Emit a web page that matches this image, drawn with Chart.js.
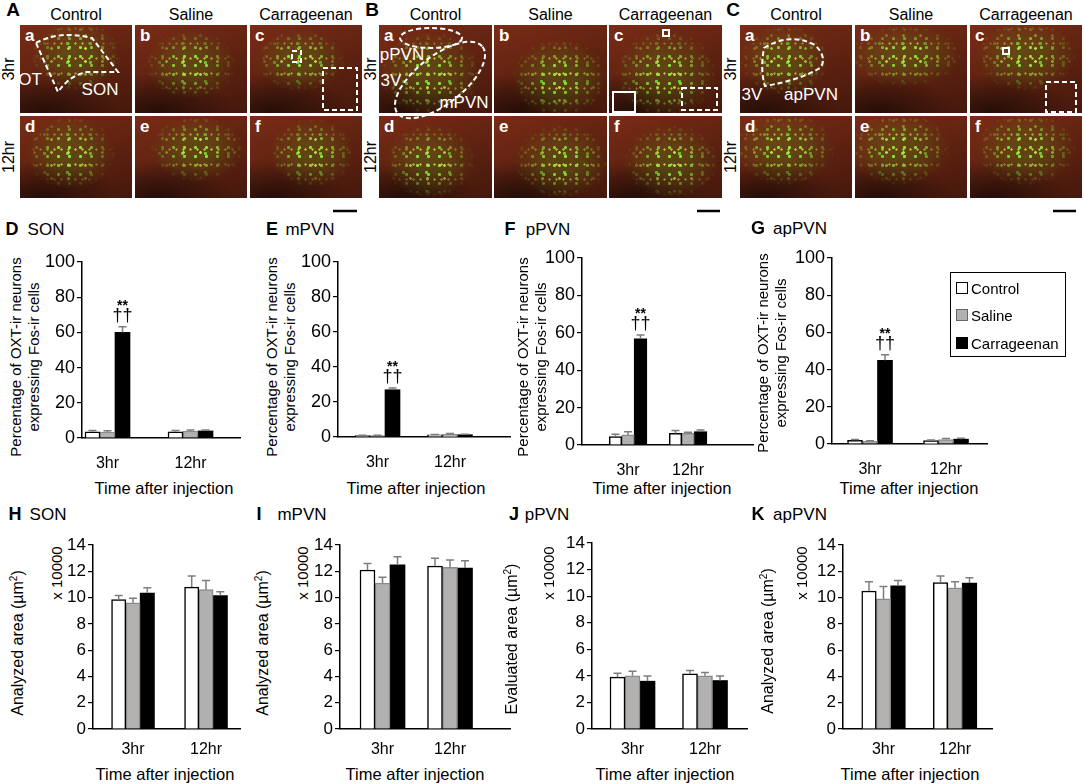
<!DOCTYPE html>
<html>
<head>
<meta charset="utf-8">
<script src="https://cdn.jsdelivr.net/npm/chart.js@4.4.1/dist/chart.umd.min.js"></script>
<style>
  body { margin: 0; background: #fff; font-family: "Liberation Sans", Arial, sans-serif; color: #000; }
  #fig { position: relative; width: 1084px; height: 784px; overflow: hidden; }
  .t { position: absolute; white-space: nowrap; transform: translate(-50%, -50%); line-height: 1.1; }
  .rot { transform: translate(-50%, -50%) rotate(-90deg); text-align: center; }
  .img { position: absolute; overflow: hidden;
         background: radial-gradient(ellipse 70% 45% at 20% 100%, rgba(25,10,5,.8), rgba(25,10,5,0)),
                     linear-gradient(160deg, #7a2c16, #5a2010 60%, #45180c); }
  .cells { position: absolute; inset: 0;
           background-image: radial-gradient(circle, #8fe03a 0 1.2px, rgba(0,0,0,0) 2px),
                             radial-gradient(circle, #b6e244 0 1px, rgba(0,0,0,0) 1.7px),
                             radial-gradient(circle, #6fd02a 0 1.3px, rgba(0,0,0,0) 2px),
                             radial-gradient(circle, #d0c040 0 0.8px, rgba(0,0,0,0) 1.5px),
                             linear-gradient(rgba(95,130,25,.35), rgba(95,130,25,.35));
           background-size: 11px 9px, 17px 13px, 23px 19px, 7px 15px, 100% 100%;
           background-position: 0 0, 6px 4px, 13px 9px, 3px 11px, 0 0; }
  .lbl { position: absolute; color: #fff; font-size: 17px; }
  canvas { position: absolute; }
  .legend { position: absolute; left: 950px; top: 272px; width: 114px; height: 83px; border: 1.5px solid #000; }
  .li { position: absolute; left: 5px; font-size: 15px; line-height: 15px; }
  .li span { display: inline-block; width: 10px; height: 10px; margin-right: 3px; vertical-align: 0; border: 1px solid #000; }
</style>
</head>
<body>
<div id="fig"></div>
<script>
const categories = ["3hr", "12hr"];
const groups = ["Control", "Saline", "Carrageenan"];
const fosTicks = [0, 20, 40, 60, 80, 100];
const areaTicks = [0, 2, 4, 6, 8, 10, 12, 14];
const sigLabels = ["**", "\u2020\u2020"];

// % of OXT-ir neurons expressing Fos-ir cells; rows = Control, Saline, Carrageenan; cols = 3hr, 12hr
const sonFos = [[3.5, 3.5], [3.4, 4.0], [60, 4.0]];
const sonFosErr = [[0.8, 0.8], [0.7, 0.6], [3.2, 0.5]];
const mpvnFos = [[0.8, 1.2], [0.8, 1.6], [27, 1.3]];
const mpvnFosErr = [[0.2, 0.3], [0.2, 0.4], [1.0, 0.3]];
const ppvnFos = [[4.5, 6.2], [5.4, 6.2], [56.8, 7.1]];
const ppvnFosErr = [[1.2, 1.5], [1.7, 0.6], [2.0, 0.9]];
const appvnFos = [[2.0, 1.8], [1.5, 2.4], [45, 2.6]];
const appvnFosErr = [[0.4, 0.3], [0.3, 0.5], [3.0, 0.5]];

// analyzed / evaluated area, x 10000 um2
const sonArea = [[9.85, 10.8], [9.6, 10.6], [10.35, 10.15]];
const sonAreaErr = [[0.3, 0.85], [0.35, 0.7], [0.4, 0.3]];
const mpvnArea = [[12.1, 12.4], [11.1, 12.3], [12.5, 12.25]];
const mpvnAreaErr = [[0.5, 0.6], [0.45, 0.55], [0.6, 0.55]];
const ppvnArea = [[3.9, 4.15], [4.0, 4.0], [3.6, 3.65]];
const ppvnAreaErr = [[0.3, 0.25], [0.35, 0.25], [0.38, 0.33]];
const appvnArea = [[10.5, 11.15], [9.9, 10.75], [10.9, 11.1]];
const appvnAreaErr = [[0.7, 0.5], [0.95, 0.45], [0.4, 0.4]];

const fills = ["#ffffff", "#b3b0b0", "#000000"];
const edges = ["#000000", "#8c8a8a", "#000000"];

const fig = document.getElementById("fig");
function text(x, y, s, css) {
  const d = document.createElement("div");
  d.className = "t";
  d.style.left = x + "px";
  d.style.top = y + "px";
  d.innerHTML = s;
  if (css) Object.assign(d.style, css);
  fig.appendChild(d);
  return d;
}
function rtext(x, y, s, css) {
  const d = text(x, y, s, css);
  d.classList.add("rot");
  return d;
}

// ---------- micrograph panels (A, B, C) ----------
const blocks = [
  { id: "A", lx: 13, side: 9, cols: [20, 135, 250], w: 112 },
  { id: "B", lx: 372, side: 371, cols: [379, 494, 609], w: 113 },
  { id: "C", lx: 733, side: 731, cols: [740, 855, 970], w: 112 },
];
const rows = [[25, 88], [116, 82]];
const letters = [["a", "b", "c"], ["d", "e", "f"]];
const glows = {
  A: [["50% 35%", "40% 40%"], ["50% 45%", "40% 40%"], ["45% 40%", "40% 35%"], ["45% 45%", "40% 45%"], ["55% 40%", "42% 40%"], ["55% 45%", "38% 42%"]],
  B: [["45% 55%", "45% 48%"], ["58% 60%", "42% 45%"], ["50% 55%", "45% 50%"], ["45% 55%", "40% 45%"], ["60% 55%", "42% 45%"], ["55% 55%", "42% 45%"]],
  C: [["40% 40%", "40% 40%"], ["45% 35%", "50% 35%"], ["50% 35%", "45% 40%"], ["40% 40%", "45% 45%"], ["40% 40%", "45% 45%"], ["50% 40%", "45% 45%"]],
};
blocks.forEach(b => {
  text(b.lx, 10, b.id, { fontWeight: "bold", fontSize: "19px" });
  groups.forEach((g, i) => text(b.cols[i] + b.w / 2, 15, g, { fontSize: "16px" }));
  rtext(b.side, 25 + 44, "3hr", { fontSize: "16px" });
  rtext(b.side, 116 + 41, "12hr", { fontSize: "16px" });
  rows.forEach((r, ri) => {
    b.cols.forEach((cx, ci) => {
      const d = document.createElement("div");
      d.className = "img";
      Object.assign(d.style, { left: cx + "px", top: r[0] + "px", width: b.w + "px", height: r[1] + "px" });
      const c = document.createElement("div");
      c.className = "cells";
      const gl = glows[b.id][ri * 3 + ci];
      const m = `radial-gradient(ellipse ${gl[1].split(" ")[0]} ${gl[1].split(" ")[1]} at ${gl[0]}, #000 30%, rgba(0,0,0,0) 100%)`;
      c.style.webkitMaskImage = m;
      c.style.maskImage = m;
      d.appendChild(c);
      const l = document.createElement("div");
      l.className = "lbl";
      Object.assign(l.style, { left: "5px", top: "1px", fontWeight: "bold" });
      l.textContent = letters[ri][ci];
      d.appendChild(l);
      fig.appendChild(d);
    });
  });
});
// labels inside a-panels
[[30, 80, "OT"], [100, 90, "SON"], [402, 55, "pPVN"], [391, 81, "3V"], [464, 103, "mPVN"], [752, 95, "3V"], [811, 95, "apPVN"]]
  .forEach(l => text(l[0], l[1], l[2], { color: "#fff", fontSize: "17px" }));

// dashed outlines, insets and scale bars
const svgNS = "http://www.w3.org/2000/svg";
const svg = document.createElementNS(svgNS, "svg");
svg.setAttribute("width", 1084);
svg.setAttribute("height", 220);
svg.style.position = "absolute";
svg.style.left = "0px";
svg.style.top = "0px";
svg.innerHTML = `
  <g fill="none" stroke="#fff" stroke-width="2" stroke-dasharray="5 3">
    <path d="M36 43 Q60 30 92 38 L118 72 L87 72 Q70 75 58 92 Z"/>
    <rect x="323" y="68" width="34" height="42"/>
    <rect x="292" y="51" width="9" height="11"/>
    <ellipse cx="431" cy="38" rx="31" ry="10"/>
    <ellipse cx="440" cy="80" rx="54" ry="24" transform="rotate(-38 440 80)"/>
    <rect x="682" y="88" width="35" height="22"/>
    <path d="M764 48 Q790 32 815 45 Q828 58 820 68 Q800 80 765 86 Q760 70 764 48 Z"/>
    <rect x="1046" y="82" width="30" height="30"/>
  </g>
  <g fill="none" stroke="#fff" stroke-width="2">
    <rect x="613" y="92" width="22" height="20"/>
    <rect x="663" y="30" width="6" height="6"/>
    <rect x="1003" y="48" width="6" height="6"/>
  </g>
  <g stroke="#000" stroke-width="2.5">
    <line x1="333" y1="211" x2="357" y2="211"/>
    <line x1="697" y1="211" x2="720" y2="211"/>
    <line x1="1053" y1="211" x2="1076" y2="211"/>
  </g>`;
fig.appendChild(svg);

// ---------- bar chart panels ----------
Chart.defaults.font.family = "'Liberation Sans', Arial, sans-serif";
Chart.defaults.color = "#000";

const fosTitle = "Percentage of OXT-ir neurons<br>expressing Fos-ir cells";
const panels = [
  { id: "D", name: "SON", mean: sonFos, err: sonFosErr, ticks: fosTicks, L: 82, R: 240, top: 262, bot: 438, c1: 107.5, c2: 190.5, bw: 15, sig: true },
  { id: "E", name: "mPVN", mean: mpvnFos, err: mpvnFosErr, ticks: fosTicks, L: 338, R: 510, top: 262, bot: 437, c1: 377.5, c2: 450, bw: 15, sig: true },
  { id: "F", name: "pPVN", mean: ppvnFos, err: ppvnFosErr, ticks: fosTicks, L: 582, R: 753, top: 258, bot: 445, c1: 628, c2: 688, bw: 12.5, sig: true },
  { id: "G", name: "apPVN", mean: appvnFos, err: appvnFosErr, ticks: fosTicks, L: 832, R: 987, top: 258, bot: 444, c1: 870, c2: 946, bw: 15, sig: true },
  { id: "H", name: "SON", mean: sonArea, err: sonAreaErr, ticks: areaTicks, L: 93, R: 240, top: 545, bot: 729, c1: 133, c2: 206, bw: 14.3 },
  { id: "I", name: "mPVN", mean: mpvnArea, err: mpvnAreaErr, ticks: areaTicks, L: 340, R: 510, top: 545, bot: 729, c1: 382.5, c2: 450, bw: 15 },
  { id: "J", name: "pPVN", mean: ppvnArea, err: ppvnAreaErr, ticks: areaTicks, L: 592, R: 747, top: 543, bot: 729, c1: 632.5, c2: 705, bw: 15 },
  { id: "K", name: "apPVN", mean: appvnArea, err: appvnAreaErr, ticks: areaTicks, L: 843, R: 992, top: 545, bot: 729, c1: 883.5, c2: 955, bw: 14.5 },
];

// panel headings and axis titles
const heads = { D: [12, 46, 230], E: [272, 310, 230], F: [510, 548, 230], G: [758, 800, 229],
                H: [15, 48, 515], I: [259, 302, 515], J: [514, 547, 515], K: [758, 800, 515] };
const yTitles = { D: [25, 357], E: [281, 357], F: [532, 357], G: [772, 353],
                  H: [17, 643], I: [262, 643], J: [511, 639], K: [767, 641] };
const mults = { H: 57, I: 303, J: 549, K: 802 };
const timeX = { D: 164, E: 416, F: 662, G: 909, H: 165, I: 415, J: 665, K: 910 };

panels.forEach(p => {
  const h = heads[p.id];
  text(h[0], h[2], p.id, { fontWeight: "bold", fontSize: "18px" });
  text(h[1], h[2], p.name, { fontSize: "17px" });
  const yt = yTitles[p.id];
  const fos = p.ticks === fosTicks;
  if (fos) {
    rtext(yt[0], yt[1], fosTitle, { fontSize: "15px", lineHeight: "18px" });
  } else {
    const word = p.id === "J" ? "Evaluated" : "Analyzed";
    rtext(yt[0], yt[1], word + " area (\u00b5m<sup style='font-size:10px'>2</sup>)", { fontSize: "16px" });
    rtext(mults[p.id], 573, "x 10000", { fontSize: "15px" });
  }
  text(timeX[p.id], fos ? 488 : 774, "Time after injection", { fontSize: "16.5px" });

  const yAxisW = 60, padT = 14, padR = 6, xAxisH = 34;
  const cv = document.createElement("canvas");
  const cw = (p.R - p.L) + yAxisW + padR;
  const ch = padT + (p.bot - p.top) + xAxisH;
  cv.width = cw; cv.height = ch;
  cv.style.left = (p.L - yAxisW) + "px";
  cv.style.top = (p.top - padT) + "px";
  cv.style.width = cw + "px";
  cv.style.height = ch + "px";
  fig.appendChild(cv);

  const span = p.c2 - p.c1;
  const xMin = -(p.c1 - p.L) / span;
  const xMax = 1 + (p.R - p.c2) / span;
  const tickFont = fos ? 18 : 17;

  const errorBars = {
    id: "errorBars" + p.id,
    afterDatasetsDraw(chart) {
      const ctx = chart.ctx;
      const ys = chart.scales.y;
      ctx.save();
      ctx.strokeStyle = "#7d7d7d";
      ctx.lineWidth = 1.5;
      groups.forEach((g, s) => {
        chart.getDatasetMeta(s).data.forEach((bar, i) => {
          const yTop = ys.getPixelForValue(p.mean[s][i] + p.err[s][i]);
          ctx.beginPath();
          ctx.moveTo(bar.x, bar.y);
          ctx.lineTo(bar.x, yTop);
          ctx.moveTo(bar.x - 4, yTop);
          ctx.lineTo(bar.x + 4, yTop);
          ctx.stroke();
        });
      });
      if (p.sig) {
        const bar = chart.getDatasetMeta(2).data[0];
        const yTop = ys.getPixelForValue(p.mean[2][0] + p.err[2][0]);
        ctx.fillStyle = "#000";
        ctx.textAlign = "center";
        ctx.textBaseline = "alphabetic";
        ctx.font = "18px 'Liberation Sans', Arial, sans-serif";
        ctx.fillText(sigLabels[1], bar.x, yTop - 6);
        ctx.font = "bold 14px 'Liberation Sans', Arial, sans-serif";
        ctx.fillText(sigLabels[0], bar.x, yTop - 17);
      }
      ctx.restore();
    }
  };

  new Chart(cv, {
    type: "bar",
    data: {
      datasets: groups.map((g, s) => ({
        label: g,
        data: categories.map((c, i) => ({ x: i, y: p.mean[s][i] })),
        backgroundColor: fills[s],
        borderColor: edges[s],
        borderWidth: s === 2 ? 0 : 1.5,
        barThickness: p.bw
      }))
    },
    options: {
      responsive: false,
      animation: false,
      layout: { padding: { top: padT, right: padR, left: 0, bottom: 0 } },
      plugins: { legend: { display: false }, tooltip: { enabled: false } },
      scales: {
        x: {
          type: "linear",
          min: xMin,
          max: xMax,
          offset: false,
          afterBuildTicks(s) { s.ticks = categories.map((c, i) => ({ value: i })); },
          afterFit(s) { s.height = xAxisH; },
          ticks: { callback: v => categories[v], font: { size: 16 }, color: "#000", padding: fos ? 8 : 3, maxRotation: 0 },
          grid: { display: false },
          border: { display: true, color: "#000", width: 1.5 }
        },
        y: {
          min: p.ticks[0],
          max: p.ticks[p.ticks.length - 1],
          afterFit(s) { s.width = yAxisW; },
          ticks: { stepSize: p.ticks[1] - p.ticks[0], font: { size: tickFont }, color: "#000", padding: 2 },
          grid: { drawOnChartArea: false, color: "#000", tickLength: 5, lineWidth: 1.2 },
          border: { display: true, color: "#000", width: 1.5 }
        }
      }
    },
    plugins: [errorBars]
  });
});

// legend for panels D-G
const lg = document.createElement("div");
lg.className = "legend";
groups.forEach((g, s) => {
  const it = document.createElement("div");
  it.className = "li";
  it.style.top = [8, 35, 63][s] + "px";
  it.innerHTML = `<span style="background:${fills[s]};border-color:${edges[s] === '#000000' ? '#000' : '#666'}"></span>${g}`;
  lg.appendChild(it);
});
fig.appendChild(lg);
</script>
</body>
</html>
